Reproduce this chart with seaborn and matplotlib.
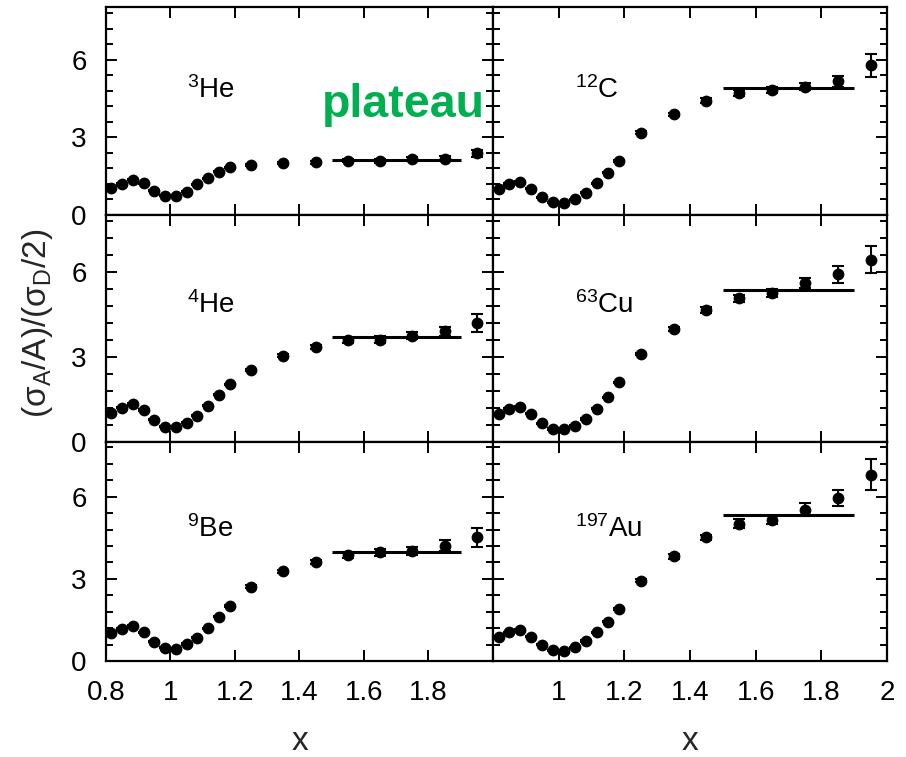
import numpy as np
import pandas as pd
import matplotlib
matplotlib.use("Agg")
import matplotlib.pyplot as plt
import seaborn as sns
from matplotlib.ticker import MultipleLocator, FixedLocator, FixedFormatter

# ---------------- data ----------------
x_vals = [0.817, 0.850, 0.883, 0.917, 0.950, 0.983, 1.017, 1.050, 1.083, 1.117,
          1.150, 1.183, 1.25, 1.35, 1.45, 1.55, 1.65, 1.75, 1.85, 1.95]

he3 = [1.03, 1.20, 1.36, 1.23, 0.94, 0.74, 0.74, 0.90, 1.19, 1.42,
       1.68, 1.85, 1.94, 2.03, 2.04, 2.10, 2.10, 2.17, 2.18, 2.39]
c12 = [0.99, 1.20, 1.28, 1.02, 0.69, 0.49, 0.45, 0.61, 0.86, 1.23,
       1.64, 2.09, 3.19, 3.90, 4.43, 4.72, 4.84, 4.97, 5.17, 5.79]
he4 = [1.01, 1.21, 1.34, 1.13, 0.78, 0.54, 0.52, 0.68, 0.92, 1.28,
       1.67, 2.04, 2.54, 3.04, 3.35, 3.58, 3.60, 3.75, 3.90, 4.19]
cu63 = [0.99, 1.17, 1.25, 0.99, 0.66, 0.46, 0.45, 0.57, 0.81, 1.17,
        1.58, 2.11, 3.10, 3.98, 4.66, 5.06, 5.25, 5.61, 5.92, 6.43]
be9 = [1.01, 1.17, 1.28, 1.05, 0.71, 0.49, 0.45, 0.62, 0.85, 1.20,
       1.62, 2.01, 2.72, 3.27, 3.61, 3.88, 3.97, 4.03, 4.21, 4.52]
au197 = [0.89, 1.05, 1.14, 0.89, 0.59, 0.40, 0.37, 0.50, 0.73, 1.05,
         1.44, 1.90, 2.93, 3.82, 4.52, 5.02, 5.14, 5.53, 5.96, 6.81]

small_err = [0.02] * 12
he3_err = small_err + [0.03, 0.04, 0.05, 0.06, 0.07, 0.08, 0.10, 0.14]
c12_err = small_err + [0.05, 0.06, 0.08, 0.10, 0.12, 0.13, 0.20, 0.44]
he4_err = small_err + [0.05, 0.06, 0.08, 0.10, 0.12, 0.13, 0.17, 0.31]
cu63_err = small_err + [0.05, 0.06, 0.10, 0.13, 0.15, 0.18, 0.30, 0.48]
be9_err = small_err + [0.05, 0.06, 0.08, 0.12, 0.12, 0.15, 0.20, 0.35]
au197_err = small_err + [0.05, 0.10, 0.10, 0.15, 0.15, 0.24, 0.30, 0.56]

nuclei = ["$^{3}$He", "$^{12}$C", "$^{4}$He", "$^{63}$Cu", "$^{9}$Be", "$^{197}$Au"]
ratios = [he3, c12, he4, cu63, be9, au197]
errors = [he3_err, c12_err, he4_err, cu63_err, be9_err, au197_err]
plateau_levels = [2.13, 4.90, 3.70, 5.37, 4.00, 5.35]
plateau_x = [1.5, 1.9]

x_ticks = [0.8, 1.0, 1.2, 1.4, 1.6, 1.8, 2.0]
left_xticklabels = ["0.8", "1", "1.2", "1.4", "1.6", "1.8", ""]
right_xticklabels = ["", "1", "1.2", "1.4", "1.6", "1.8", "2"]
y_ticks = [0, 3, 6]
y_ticklabels = ["0", "3", "6"]

# ---------------- style ----------------
sns.set_theme(style="ticks")
plt.rcParams["font.family"] = ["Liberation Sans", "DejaVu Sans"]
plt.rcParams["mathtext.default"] = "regular"

W, H = 906, 757
fig = plt.figure(figsize=(W / 100, H / 100), dpi=100)

col_px = [(106, 493), (493, 887)]
row_px = [(7, 215), (215, 442), (442, 661)]
row_ylim = [8.05, 8.0, 8.0]

for idx in range(6):
    r, c = divmod(idx, 2)
    x0, x1 = col_px[c]
    y0, y1 = row_px[r]
    ax = fig.add_axes([x0 / W, 1 - y1 / H, (x1 - x0) / W, (y1 - y0) / H])

    df = pd.DataFrame({"x": x_vals, "y": ratios[idx], "err": errors[idx]})
    ax.errorbar(df["x"], df["y"], yerr=df["err"], fmt="none", ecolor="black",
                elinewidth=1.5, capsize=4, capthick=1.5, zorder=2)
    sns.scatterplot(data=df, x="x", y="y", ax=ax, color="black", s=72,
                    linewidth=0, zorder=3, legend=False)
    ax.hlines(plateau_levels[idx], plateau_x[0], plateau_x[1], color="black",
              linewidth=2.2, zorder=4)

    ax.set_xlim(0.8, 2.0)
    ax.set_ylim(0, row_ylim[r])
    ax.set_xlabel("")
    ax.set_ylabel("")

    ax.xaxis.set_major_locator(FixedLocator(x_ticks))
    if r == 2:
        ax.xaxis.set_major_formatter(FixedFormatter(left_xticklabels if c == 0 else right_xticklabels))
    else:
        ax.set_xticklabels([])
    ax.yaxis.set_major_locator(FixedLocator(y_ticks))
    ax.yaxis.set_minor_locator(MultipleLocator(0.6))
    if c == 0:
        ax.set_yticklabels(y_ticklabels)
    else:
        ax.set_yticklabels([])

    ax.tick_params(which="both", direction="in", top=True, right=True,
                   width=1.4, color="black", labelsize=20, labelcolor="black")
    ax.tick_params(which="major", length=8, pad=14)
    ax.tick_params(which="minor", length=5)
    for sp in ax.spines.values():
        sp.set_linewidth(1.6)
        sp.set_color("black")
        sp.set_visible(True)

    ax.text(1.05, 4.53, nuclei[idx], fontsize=20, ha="left", va="baseline",
            color="black")

# axis labels
fig.text(300 / W, 1 - 742 / H, "x", fontsize=24, ha="center", va="center")
fig.text(690 / W, 1 - 742 / H, "x", fontsize=24, ha="center", va="center")
fig.text(38 / W, 1 - 323 / H, "(σ$_{A}$/A)/(σ$_{D}$/2)", fontsize=24,
         rotation=90, ha="center", va="center")

# annotation
fig.text(485 / W, 1 - 117 / H, "plateau", fontsize=33.5, fontweight="bold",
         color="#00B050", ha="right", va="baseline")

fig.savefig("out.png", dpi=100)
